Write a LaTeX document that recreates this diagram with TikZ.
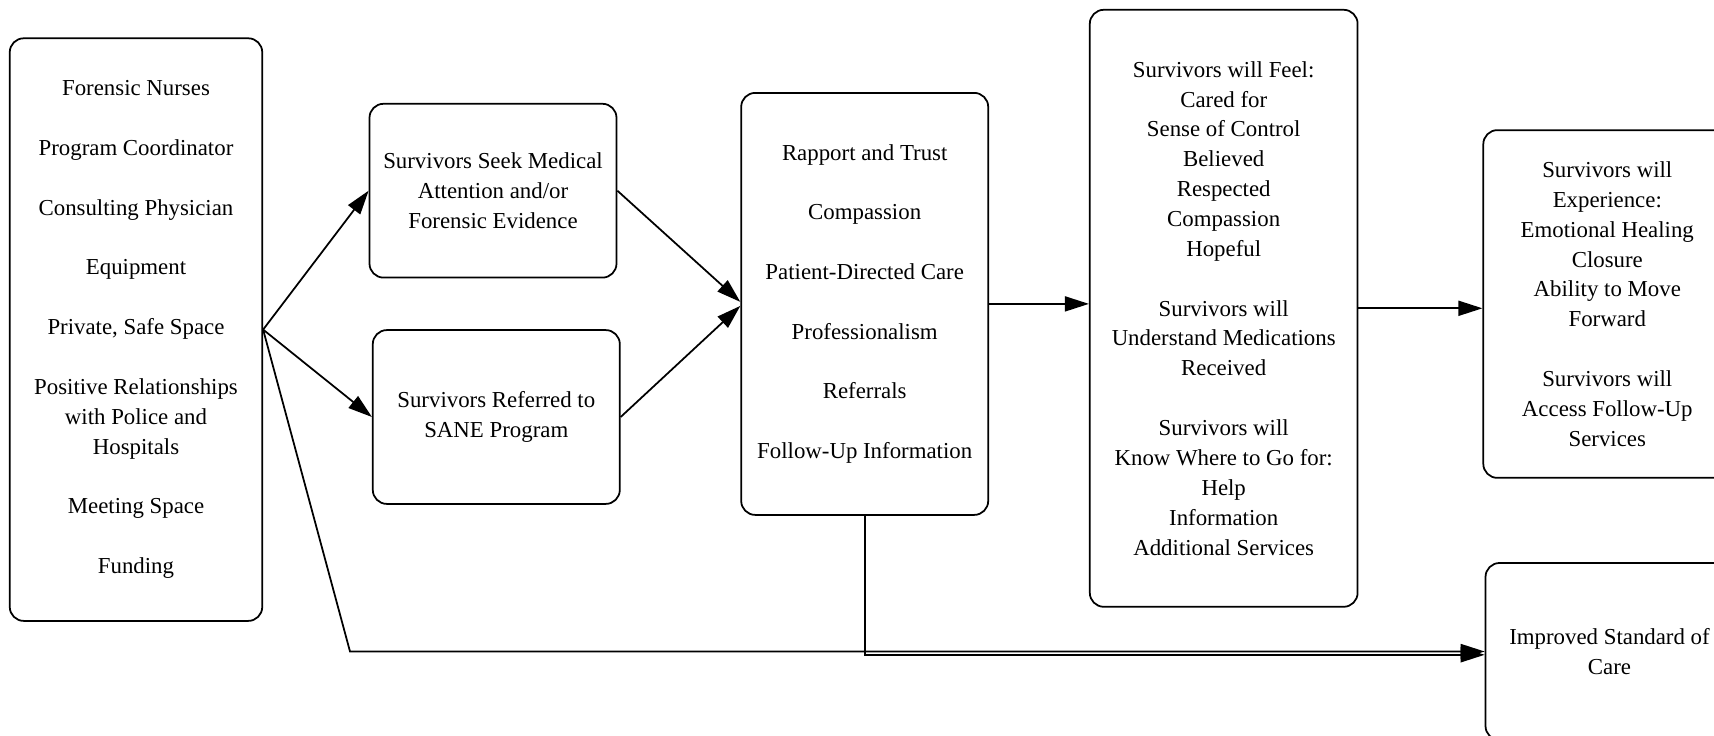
\documentclass[tikz,border=0pt]{standalone}
\usepackage{fontspec}
\setmainfont{Liberation Serif}
\usetikzlibrary{arrows.meta, calc}

\tikzset{
    box/.style={draw, line width=1pt, rounded corners=0.28cm, align=center,
        inner sep=0pt, font=\fontsize{13}{17}\selectfont},
    flow/.style={line width=1pt, -{Triangle[length=0.48cm, width=0.3cm]}}
}

\begin{document}
\begin{tikzpicture}[x=0.02cm, y=-0.02cm]

    % Fix the page to the size of the reference
    \useasboundingbox (0,0) rectangle (1714,736);

    % Draw the boxes
    \node[box, minimum width=252.5*0.02cm, minimum height=582.6*0.02cm] (inputs) at (136,329.6)
        {Forensic Nurses\\[17pt] Program Coordinator\\[17pt] Consulting Physician\\[17pt]
         Equipment\\[17pt] Private, Safe Space\\[17pt] Positive Relationships\\ with Police and\\
         Hospitals\\[17pt] Meeting Space\\[17pt] Funding};
    \node[box, minimum width=247*0.02cm, minimum height=173.8*0.02cm] (seek) at (493,190.7)
        {Survivors Seek Medical\\ Attention and/or\\ Forensic Evidence};
    \node[box, minimum width=247*0.02cm, minimum height=173.8*0.02cm] (referred) at (496.3,417)
        {Survivors Referred to\\ SANE Program};
    \node[box, minimum width=247*0.02cm, minimum height=422*0.02cm] (actions) at (864.7,303.9)
        {Rapport and Trust\\[17pt] Compassion\\[17pt] Patient-Directed Care\\[17pt]
         Professionalism\\[17pt] Referrals\\[17pt] Follow-Up Information};
    \node[box, minimum width=267.8*0.02cm, minimum height=597*0.02cm] (feel) at (1223.7,308.3)
        {Survivors will Feel:\\ Cared for\\ Sense of Control\\ Believed\\ Respected\\
         Compassion\\ Hopeful\\[17pt] Survivors will\\ Understand Medications\\ Received\\[17pt]
         Survivors will\\ Know Where to Go for:\\ Help\\ Information\\ Additional Services};
    \node[box, minimum width=248*0.02cm, minimum height=347.7*0.02cm] (experience) at (1607.3,304)
        {Survivors will\\ Experience:\\ Emotional Healing\\ Closure\\ Ability to Move\\
         Forward\\[17pt] Survivors will\\ Access Follow-Up\\ Services};
    \node[box, minimum width=248*0.02cm, minimum height=177*0.02cm] (care) at (1609.5,651.5)
        {Improved Standard of\\ Care};

    % Draw the connectors
    \draw[flow] (inputs.east) -- (seek.west);
    \draw[flow] (inputs.east) -- (referred.west);
    \draw[flow] (seek.east) -- ([yshift=0.04cm]actions.west);
    \draw[flow] (referred.east) -- ([yshift=-0.04cm]actions.west);
    \draw[flow] (actions.east) -- (actions.east -| feel.west);
    \draw[flow] (feel.east) -- (feel.east -| experience.west);
    \coordinate (bend) at (350,651.5);
    \draw[flow] (inputs.east) -- (bend) -- (care.west);
    \coordinate (drop) at ($(care.west)+(0,3.3)$);
    \draw[flow] (actions.south) -- (actions.south |- drop) -- (drop);

\end{tikzpicture}
\end{document}
